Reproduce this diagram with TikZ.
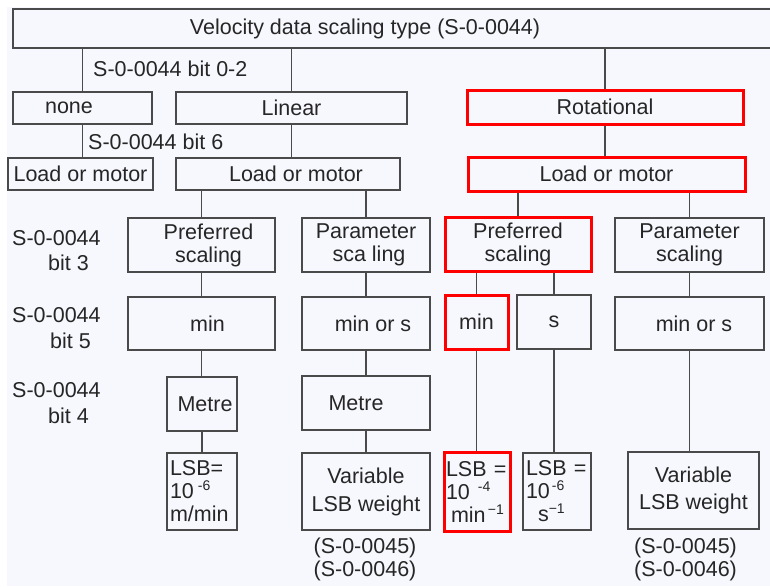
\documentclass[tikz,border=0pt]{standalone}
\usepackage{fontspec}
\setmainfont{Liberation Sans}
\usepackage{xcolor}
\usepackage{tikz}
\usetikzlibrary{positioning}
\definecolor{paper}{HTML}{F7F8FD}
\definecolor{edge}{HTML}{4A4A4A}
\definecolor{selred}{HTML}{FF0000}
\definecolor{ink}{HTML}{262626}
% small raised exponent
\newcommand{\lsbexp}[1]{\raisebox{8pt}{\fontsize{14}{14}\selectfont #1}}

\begin{document}
\begin{tikzpicture}[
    x=1pt, y=-1pt,
    every node/.style={font=\fontsize{21.5}{23}\selectfont, text=ink},
    box/.style={draw=edge, fill=paper, line width=1.3pt, rectangle, inner sep=0pt, align=center},
    selbox/.style={box, draw=selred, line width=3pt},
    lsbbox/.style={box, align=left, inner xsep=3pt},
    note/.style={inner sep=0pt, align=left},
    link/.style={draw=edge, line width=1.4pt}
]
\useasboundingbox (0,0) rectangle (770,586);
\fill[white] (0,0) rectangle (770,586);
\fill[paper] (7,7) rectangle (770,586);

% scaling type and its branches
\node[box, minimum width=762, minimum height=39] (type) at (394,28.5) {Velocity data scaling type (S-0-0044)\hspace*{58pt}};
\node[box, minimum width=139, minimum height=32] (none) at (82.5,108) {none\hspace*{27pt}};
\node[box, minimum width=231, minimum height=32] (linear) at (291.5,108) {Linear};
\node[selbox, minimum width=276, minimum height=34] (rot) at (605,107) {Rotational};

\node[box, minimum width=145, minimum height=32] (loadL) at (80.5,174) {Load or motor};
\node[box, minimum width=224, minimum height=32] (loadM) at (288,174) {\hspace*{16pt}Load or motor};
\node[selbox, minimum width=277, minimum height=34] (loadR) at (606.5,174) {Load or motor};

% bit 3
\node[box, minimum width=147, minimum height=54] (prefL) at (201.5,245) {\hspace*{14pt}Preferred\\\hspace*{14pt}scaling};
\node[box, minimum width=128, minimum height=54] (paramM) at (366,245) {Parameter\\\hspace*{6pt}sca ling};
\node[selbox, minimum width=146, minimum height=54] (prefR) at (518,244) {Preferred\\scaling};
\node[box, minimum width=149, minimum height=54] (paramR) at (689.5,245) {Parameter\\scaling};

% bit 5
\node[box, minimum width=147, minimum height=53] (minL) at (201.5,323.5) {\hspace*{12pt}min};
\node[box, minimum width=128, minimum height=53] (minsM) at (366,323.5) {\hspace*{14pt}min or s};
\node[selbox, minimum width=63, minimum height=54] (minR) at (476.5,322) {min};
\node[box, minimum width=74, minimum height=54] (secR) at (554,322) {s};
\node[box, minimum width=149, minimum height=53] (minsR) at (689.5,323.5) {\hspace*{9pt}min or s};

% bit 4
\node[box, minimum width=70, minimum height=54] (metreL) at (202,404) {\hspace*{6pt}Metre};
\node[box, minimum width=128, minimum height=54] (metreM) at (366,403) {Metre\hspace*{20pt}};

% LSB weights
\node[lsbbox, text width=64, minimum height=77] (lsbL) at (202,491.5) {\mbox{LSB=}\\10\hspace{4pt}\lsbexp{-6}\\m/min};
\node[box, minimum width=128, minimum height=77, font=\fontsize{21.5}{28}\selectfont] (varM) at (366,491.5) {Variable\\LSB weight};
\node[selbox, align=left, inner xsep=2pt, text width=62, minimum height=79] (lsbR) at (477,491.5) {\mbox{LSB =}\\10\hspace{8pt}\lsbexp{-4}\\\hspace*{5pt}min\lsbexp{\,\char"2212 1}};
\node[lsbbox, text width=62, minimum height=77] (lsbS) at (557,491.5) {\mbox{LSB =}\\10\hspace{2pt}\lsbexp{-6}\\\hspace*{12pt}s\lsbexp{\char"2212 1}};
\node[box, minimum width=131, minimum height=77, font=\fontsize{21.5}{27}\selectfont] (varR) at (693.5,490.5) {Variable\\LSB weight};

\node[note, align=center] (refM) at (365,559) {(S-0-0045)\\(S-0-0046)};
\node[note, align=center] (refR) at (685.5,559) {(S-0-0045)\\(S-0-0046)};

% parameter labels
\node[note, anchor=west] (bit02) at (93,69) {S-0-0044 bit 0-2};
\node[note, anchor=west] (bit6) at (88,142) {S-0-0044 bit 6};
\node[note, anchor=west, font=\fontsize{21.5}{25}\selectfont] (bit3) at (12,251) {S-0-0044\\\hspace*{36pt}bit 3};
\node[note, anchor=west, font=\fontsize{21.5}{26}\selectfont] (bit5) at (12,328) {S-0-0044\\\hspace*{38pt}bit 5};
\node[note, anchor=west, font=\fontsize{21.5}{26}\selectfont] (bit4) at (12,403.5) {S-0-0044\\\hspace*{36pt}bit 4};

% connectors
\draw[link] (type.south -| none.north) -- (none.north);
\draw[link] (type.south -| linear.north) -- (linear.north);
\draw[link] (type.south -| rot.north) -- (rot.north);
\draw[link] (none.south) -- (none.south |- loadL.north);
\draw[link] (linear.south) -- (linear.south |- loadM.north);
\draw[link] (rot.south) -- (rot.south |- loadR.north);
\draw[link] (loadM.south -| prefL.north) -- (prefL.north);
\draw[link] (loadM.south -| paramM.north) -- (paramM.north);
\draw[link] (loadR.south -| prefR.north) -- (prefR.north);
\draw[link] (loadR.south -| paramR.north) -- (paramR.north);
\draw[link] (prefL.south) -- (minL.north);
\draw[link] (paramM.south) -- (minsM.north);
\draw[link] (prefR.south -| minR.north) -- (minR.north);
\draw[link] (prefR.south -| secR.north) -- (secR.north);
\draw[link] (paramR.south) -- (minsR.north);
\draw[link] (minL.south) -- (minL.south |- metreL.north);
\draw[link] (minsM.south) -- (metreM.north);
\draw[link] (minR.south) -- (minR.south |- lsbR.north);
\draw[link] (secR.south) -- (secR.south |- lsbS.north);
\draw[link] (minsR.south) -- (minsR.south |- varR.north);
\draw[link] (metreL.south) -- (metreL.south |- lsbL.north);
\draw[link] (metreM.south) -- (varM.north);
\end{tikzpicture}
\end{document}
